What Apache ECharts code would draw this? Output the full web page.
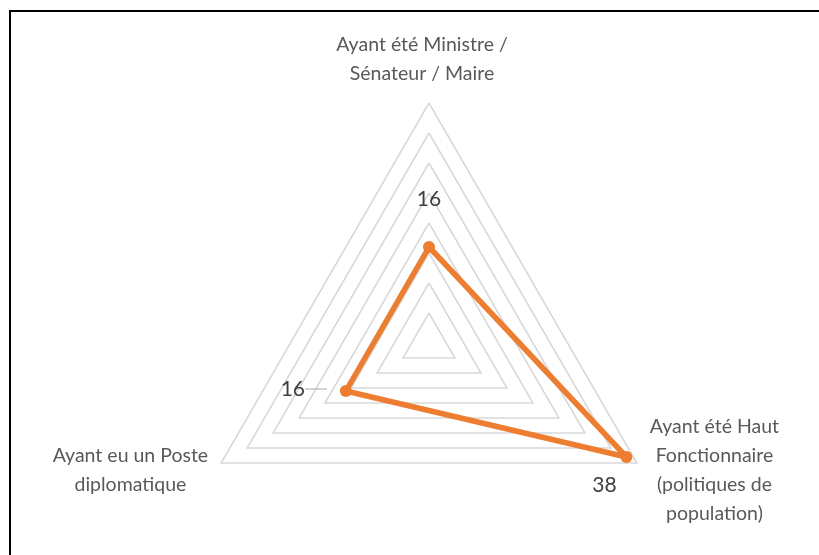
<!DOCTYPE html>
<html>
<head>
<meta charset="utf-8">
<script src="https://cdn.jsdelivr.net/npm/echarts@6/dist/echarts.min.js"></script>
<style>
  html, body { margin: 0; padding: 0; background: #fff; }
  #chart { width: 819px; height: 555px; position: absolute; left: 0; top: 0; }
  #frame { position: absolute; left: 9px; top: 10px; width: 900px; height: 700px;
           border-left: 2px solid #000; border-top: 2px solid #000; pointer-events: none; }
</style>
</head>
<body>
<div id="chart"></div>
<div id="frame"></div>
<script>
// Indicators in ECharts order (counter-clockwise from top)
const categories = [
  'Ayant été Ministre /\nSénateur / Maire',
  'Ayant eu un Poste\ndiplomatique',
  'Ayant été Haut\nFonctionnaire\n(politiques de\npopulation)'
];
const values = [16, 16, 38];
const axisMax = 40;
const splitCount = 8;
// label offsets per vertex (text placement only)
const labelOffsets = [[0, -48], [-42, -2], [-22, 28]];

const FONT = 'Lato, "Open Sans", sans-serif';
const NAME_SIZE = 19.5;

const labelData = values.map(function (v, i) {
  const arr = values.map(function (x, j) { return j === i ? x : '-'; });
  const isLeft = i === 1;
  return {
    value: arr,
    symbol: 'circle',
    symbolSize: 1,
    itemStyle: { color: 'rgba(0,0,0,0)' },
    lineStyle: { opacity: 0 },
    label: {
      show: true,
      position: 'inside',
      offset: labelOffsets[i],
      color: '#404040',
      fontFamily: FONT,
      fontSize: 21,
      formatter: function (p) {
        const val = p.value;
        if (typeof val !== 'number' || isNaN(val)) return '';
        return isLeft ? '{t|' + val + '}{l|}' : '{t|' + val + '}';
      },
      rich: {
        t: { color: '#404040', fontFamily: FONT, fontSize: 21 },
        l: { width: 22, height: 1, backgroundColor: '#a6a6a6' }
      }
    }
  };
});

const chart = echarts.init(document.getElementById('chart'), null, { renderer: 'canvas' });
chart.setOption({
  backgroundColor: 'transparent',
  animation: false,
  radar: {
    center: [429, 343],
    radius: 240,
    startAngle: 90,
    shape: 'polygon',
    splitNumber: splitCount,
    nameGap: 15,
    indicator: categories.map(function (c) { return { name: c, max: axisMax, min: 0 }; }),
    axisName: {
      color: '#595959',
      fontFamily: FONT,
      fontSize: NAME_SIZE,
      lineHeight: 29,
      formatter: function (name) {
        const style = name === categories[0] ? 'm' : 'n';
        return '{' + style + '|' + name.split('\n').join('}\n{' + style + '|') + '}';
      },
      rich: {
        n: { align: 'center', color: '#595959', fontFamily: FONT, fontSize: NAME_SIZE, lineHeight: 29 },
        m: { align: 'center', color: '#595959', fontFamily: FONT, fontSize: NAME_SIZE, lineHeight: 29, padding: [0, 14, 0, 0] }
      }
    },
    axisLine: { show: false },
    axisTick: { show: false },
    axisLabel: { show: false },
    splitArea: { show: false },
    splitLine: { lineStyle: { color: '#d9d9d9', width: 1.6 } }
  },
  series: [
    {
      type: 'radar',
      symbol: 'circle',
      symbolSize: 12,
      lineStyle: { color: '#ED7D31', width: 5.5 },
      itemStyle: { color: '#ED7D31' },
      label: { show: false },
      data: [{ value: values }]
    },
    {
      type: 'radar',
      silent: true,
      z: 3,
      data: labelData
    }
  ]
});
</script>
</body>
</html>
